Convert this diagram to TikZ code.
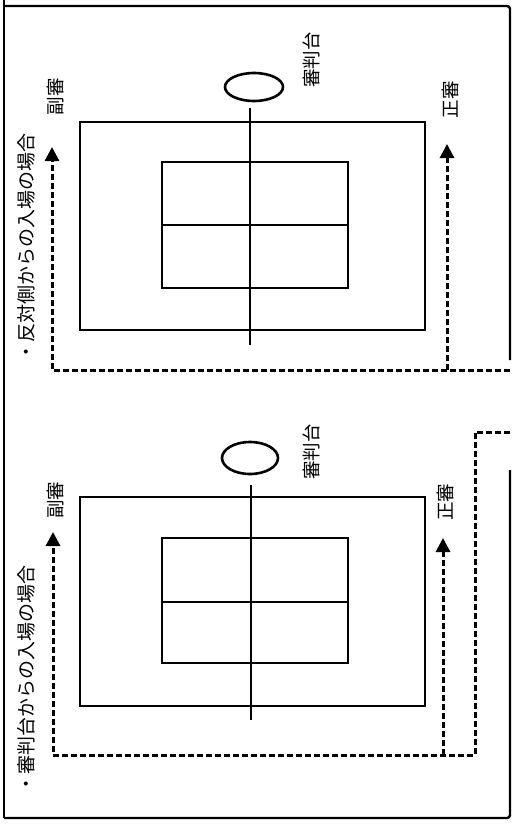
\documentclass[tikz,border=0pt]{standalone}
\usepackage{fontspec}
\newfontfamily\jp{Noto Sans CJK JP}
\usetikzlibrary{arrows.meta}
\begin{document}
\begin{tikzpicture}[x=1pt,y=-1pt,
  frame/.style={line width=2.4pt},
  court/.style={line width=2.6pt},
  route/.style={line width=3pt, dash pattern=on 6pt off 3pt},
  routearrow/.style={route,-{Triangle[width=14pt,length=14pt]}},
  lbl/.style={rotate=90, font=\jp\fontsize{18.5}{18.5}\selectfont, inner sep=0pt},
  ttl/.style={rotate=90, font=\jp\fontsize{19}{19}\selectfont, inner sep=0pt}]
\useasboundingbox (0,0) rectangle (516,832);
\fill[white] (0,0) rectangle (516,832);
% outer frame
\draw[frame] (4,0) -- (4,818);
\draw[frame, rounded corners=3pt] (4,6) -- (510,6) -- (510,360);
\draw[frame, rounded corners=3pt] (510,470) -- (510,818) -- (4,818);

% ===== top half: opposite side =====
\draw[court] (80,122) rectangle (425,330);
\draw[court] (162,162) rectangle (348,288);
\draw[court] (162,225) -- (348,225);
\draw[court] (250,108) -- (250,345);
\draw[court] (254,87) ellipse [x radius=29, y radius=14];
\node[ttl] (t1) at (26,247) {・反対側からの入場の場合};
\node[lbl] (ref1) at (311,60) {審判台};
\node[lbl] (sub1) at (55,97) {副審};
\node[lbl] (main1) at (450,100) {正審};
\coordinate (a1) at (510,370);
\coordinate (a2) at (52,370);
\coordinate (a3) at (52,147);
\coordinate (b1) at (447,370);
\coordinate (b2) at (447,144);
\draw[routearrow] (a1) -- (a2) -- (a3);
\draw[routearrow] (b1) -- (b2);

% ===== bottom half: from judge's stand side =====
\draw[court] (80,497) rectangle (425,706);
\draw[court] (162,538) rectangle (348,663);
\draw[court] (162,602) -- (348,602);
\draw[court] (251,485) -- (251,720);
\draw[court] (250,458) ellipse [x radius=28, y radius=16];
\node[ttl] (t2) at (26,679) {・審判台からの入場の場合};
\node[lbl] (ref2) at (311,452) {審判台};
\node[lbl] (sub2) at (55,500) {副審};
\node[lbl] (main2) at (445,502) {正審};
\coordinate (c1) at (510,432);
\coordinate (c2) at (475,432);
\coordinate (c3) at (475,755);
\coordinate (c4) at (53,755);
\coordinate (c5) at (53,532);
\coordinate (d1) at (443,755);
\coordinate (d2) at (443,538);
\draw[routearrow] (c1) -- (c2) -- (c3) -- (c4) -- (c5);
\draw[routearrow] (d1) -- (d2);
\end{tikzpicture}
\end{document}
